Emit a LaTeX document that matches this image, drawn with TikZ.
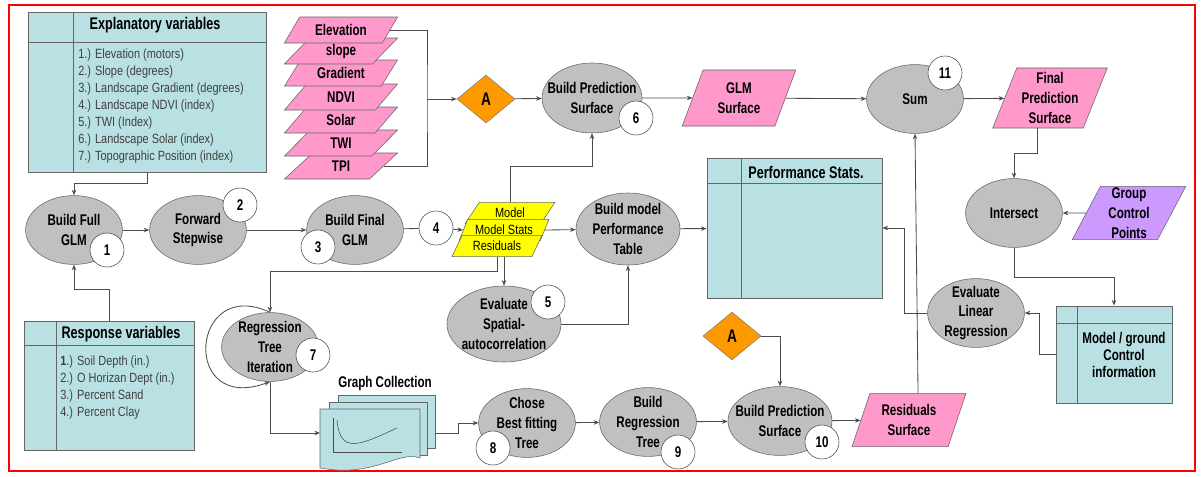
\documentclass[tikz,border=0pt]{standalone}
\usepackage{fontspec}
\setmainfont{Liberation Sans}[FakeStretch=0.75]
\newfontfamily\listfont{Liberation Sans}[FakeStretch=0.82]
\usetikzlibrary{shapes.geometric,arrows.meta}
\definecolor{procgray}{RGB}{192,192,192}
\definecolor{tblcyan}{RGB}{185,225,228}
\definecolor{datapink}{RGB}{255,153,204}
\definecolor{datapurple}{RGB}{204,153,255}
\definecolor{decorange}{RGB}{255,153,0}
\definecolor{layeryellow}{RGB}{255,255,0}

\begin{document}
\begin{tikzpicture}[x=0.025cm, y=-0.025cm,
		>={Stealth[length=4pt,width=3.2pt]},
		proc/.style={ellipse, draw=black!60, fill=procgray, minimum width=2.42cm, minimum height=1.72cm,
			inner xsep=-14pt, inner ysep=-6pt, align=center, font=\fontsize{11}{14}\selectfont\bfseries},
		numc/.style={circle, draw=black!70, fill=white, minimum size=0.85cm, inner sep=0pt,
			font=\fontsize{11}{13}\selectfont\bfseries},
		surf/.style={trapezium, trapezium left angle=68, trapezium right angle=112, trapezium stretches=true,
			draw=black!60, fill=datapink, inner sep=0pt, align=center, minimum width=2.85cm, minimum height=1.4cm,
			font=\fontsize{11}{14}\selectfont\bfseries},
		layer/.style={surf, trapezium left angle=50, trapezium right angle=130, minimum width=2.83cm, minimum height=0.65cm},
		ylayer/.style={surf, fill=layeryellow, trapezium left angle=55, trapezium right angle=125,
			minimum width=2.25cm, minimum height=0.53cm, font=\listfont\fontsize{9.5}{11}\selectfont},
		deci/.style={diamond, draw=black!50, fill=decorange, minimum width=1.45cm, minimum height=1.2cm, inner sep=0pt,
			font=\fontsize{13}{15}\selectfont\bfseries},
		tbl/.style={rectangle, draw=black!60, fill=tblcyan, line width=0.65pt, inner sep=0pt},
		tblline/.style={draw=black!60, line width=0.65pt},
		hdr/.style={font=\fontsize{12}{14}\selectfont\bfseries},
		listitem/.style={anchor=west, inner sep=0pt, text=black!75, font=\listfont\fontsize{9.5}{11}\selectfont},
		conn/.style={draw=black!70, line width=0.6pt}
	]
	\useasboundingbox (0,0) rectangle (1201,476);
	\draw[red, line width=1.3pt] (9,5) rectangle (1195,471); % frame
	
	% explanatory variables table
	\node[tbl, minimum width=5.95cm, minimum height=4cm] (expl) at (147,92) {};
	\draw[tblline] (expl.north west) ++(46,0) -- ++(0,160);
	\draw[tblline] (expl.north west) ++(0,31) -- ++(238,0);
	\node[hdr] (explhdr) at (155,25) {Explanatory variables};
	\foreach \lbl [count=\i] in {{1.) Elevation (motors)}, {2.) Slope (degrees)}, {3.) Landscape Gradient (degrees)},
		{4.) Landscape NDVI (index)}, {5.) TWI (Index)}, {6.) Landscape Solar (index)}, {7.) Topographic Position (index)}}
		\node[listitem] (ev\i) at (78,38+17*\i) {\lbl};
	
	% response variables table
	\node[tbl, minimum width=4.25cm, minimum height=3.225cm] (resp) at (109,385.5) {};
	\draw[tblline] (resp.north west) ++(33,0) -- ++(0,129);
	\draw[tblline] (resp.north west) ++(0,25) -- ++(170,0);
	\node[hdr] (resphdr) at (121,334) {Response variables};
	\foreach \lbl [count=\i] in {{\textbf{1}.) Soil Depth (in.)}, {2.) O Horizan Dept (in.)}, {3.) Percent Sand}, {4.) Percent Clay}}
		\node[listitem] (rv\i) at (60,345+17*\i) {\lbl};
	
	% performance stats table
	\node[tbl, minimum width=4.375cm, minimum height=3.5cm] (perf) at (794.5,228) {};
	\draw[tblline] (perf.north west) ++(35,0) -- ++(0,140);
	\draw[tblline] (perf.north west) ++(0,26) -- ++(175,0);
	\node[hdr] (perfhdr) at (806,172) {Performance Stats.};
	
	% model / ground control table
	\node[tbl, minimum width=2.9cm, minimum height=2.425cm] (mgc) at (1114,354.5) {};
	\draw[tblline] (mgc.north west) ++(22,0) -- ++(0,97);
	\draw[tblline] (mgc.north west) ++(0,18) -- ++(116,0);
	\node[font=\fontsize{11}{12}\selectfont\bfseries, align=center] (mgctxt) at (1124,355) {Model / ground\\Control\\information};
	
	% layer stack, bottom one first
	\foreach \nm/\lbl/\yy in {tpi/TPI/166, twi/TWI/143, solar/Solar/120, ndvi/NDVI/97, grad/Gradient/73, slope/slope/51, elev/Elevation/30}
		\node[layer] (\nm) at (341,\yy) {\lbl};
	\coordinate (stackjoin) at (427,99);
	\node[deci] (diaA) at (486,99) {A};
	
	% top row
	\node[proc, minimum width=2.5cm, minimum height=1.75cm] (bps6) at (592,98) {Build Prediction\\Surface};
	\node[numc] (n6) at (636,118) {6};
	\node[surf] (glms) at (739,98) {GLM\\Surface};
	\node[proc] (sum) at (915,99) {Sum};
	\node[numc] (n11) at (945,73) {11};
	\node[surf, minimum width=2.88cm, minimum height=1.5cm] (fps) at (1050,98) {Final\\Prediction\\Surface};
	
	% middle row
	\node[proc] (bfg) at (74,230) {Build Full\\GLM};
	\node[numc] (n1) at (107,250) {1};
	\node[proc] (fs) at (198,230) {Forward\\Stepwise};
	\node[numc] (n2) at (240,205) {2};
	\node[proc] (bfinal) at (355,230) {Build Final\\GLM};
	\node[numc] (n3) at (318,247) {3};
	\node[numc] (n4) at (436,228) {4};
	\node[ylayer] (ymodel) at (510,213) {Model};
	\node[ylayer] (ystats) at (504,230) {Model Stats};
	\node[ylayer] (yresid) at (497,246) {Residuals};
	\node[proc, minimum width=2.6cm, minimum height=1.8cm] (bmpt) at (628,229) {Build model\\Performance\\Table};
	\node[proc, minimum width=2.85cm, minimum height=1.9cm] (esa) at (504,324) {Evaluate\\Spatial-\\autocorrelation};
	\node[numc] (n5) at (548,302) {5};
	
	% right side
	\node[proc] (isect) at (1014,213) {Intersect};
	\node[surf, fill=datapurple, minimum height=1.33cm] (gcp) at (1129,213) {Group\\Control\\Points};
	\node[proc] (elr) at (976,313) {Evaluate\\Linear\\Regression};
	
	% bottom row
	\node[proc] (rti) at (270,347) {Regression\\Tree\\Iteration};
	\node[numc] (n7) at (313,355) {7};
	\node[font=\fontsize{11}{13}\selectfont\bfseries] (gclabel) at (385,383) {Graph Collection};
	\filldraw[fill=tblcyan, draw=black!60] (338,395) rectangle (435,448);
	\filldraw[fill=tblcyan, draw=black!60] (329,402) rectangle (427,455);
	\filldraw[fill=tblcyan, draw=black!60] (320,409) -- (420,409) -- (420,458)
		.. controls (398,450) and (375,478) .. (320,468) -- cycle;
	\draw[black!70] (333,418) -- (333,452) -- (402,452); % axes
	\draw[black!70] (337,420) .. controls (340,455) and (360,445) .. (397,428);
	\coordinate (gcin) at (320,433);
	\coordinate (gcout) at (435,433);
	\node[proc] (chose) at (527,423) {Chose\\Best fitting\\Tree};
	\node[numc] (n8) at (493,448) {8};
	\node[proc] (brt) at (648,422) {Build\\Regression\\Tree};
	\node[numc] (n9) at (678,452) {9};
	\node[deci] (diaB) at (732,336) {A};
	\node[proc, minimum width=2.6cm] (bps10) at (780,421) {Build Prediction\\Surface};
	\node[numc] (n10) at (822,442) {10};
	\node[surf, minimum height=1.33cm] (ressurf) at (909,420) {Residuals\\Surface};
	
	% connectors
	\draw[conn] (elev.east) -| (stackjoin) |- (tpi.east);
	\draw[conn,->] (stackjoin) -- (diaA);
	\draw[conn,->] (diaA) -- (bps6);
	\draw[conn,->] (bps6) -- (glms);
	\draw[conn,->] (glms) -- (sum);
	\draw[conn,->] (sum) -- (fps);
	\draw[conn,->] (expl.south) -- ++(0,11) -| (bfg.north);
	\draw[conn,->] (resp.north) -- ++(0,-31) -| (bfg.south);
	\draw[conn,->] (bfg) -- (fs);
	\draw[conn,->] (fs) -- (bfinal);
	\draw[conn] (bfinal) -- (n4);
	\draw[conn,->] (n4) -- (ystats.west);
	\draw[conn,->] (ymodel.north) -- ++(0,-36) -| (bps6.south);
	\draw[conn,->] (ystats.east) -- (bmpt);
	\draw[conn,->] (bmpt) -- (perf);
	\draw[conn,->] (yresid.south) -- ++(0,15) -| (rti.north);
	\draw[conn,->] (yresid.south -| esa.north) -- (esa.north);
	\draw[conn,->] (esa.east) -| (bmpt.south);
	\draw[conn,->] (rti.north) .. controls (190,275) and (180,415) .. (rti.south);
	\draw[conn,->] (rti.south) |- (gcin);
	\draw[conn,->] (gcout) -- ++(23,0) |- (chose.west);
	\draw[conn,->] (chose) -- (brt);
	\draw[conn,->] (brt) -- (bps10);
	\draw[conn,->] (bps10) -- (ressurf);
	\draw[conn,->] (diaB.east) -| (bps10.north);
	\draw[conn,->] (ressurf.top side) -- (sum.south);
	\draw[conn,->] (fps.bottom side) -- ++(0,25) -| (isect.north);
	\draw[conn,->] (gcp) -- (isect);
	\draw[conn,->] (isect.south) -- ++(0,30) -| (mgc.north);
	\draw[conn,->] (mgc.west) -- ++(-16,0) |- (elr.east);
	\draw[conn,->] (elr.west) -- ++(-23,0) |- (perf.east);
\end{tikzpicture}
\end{document}
